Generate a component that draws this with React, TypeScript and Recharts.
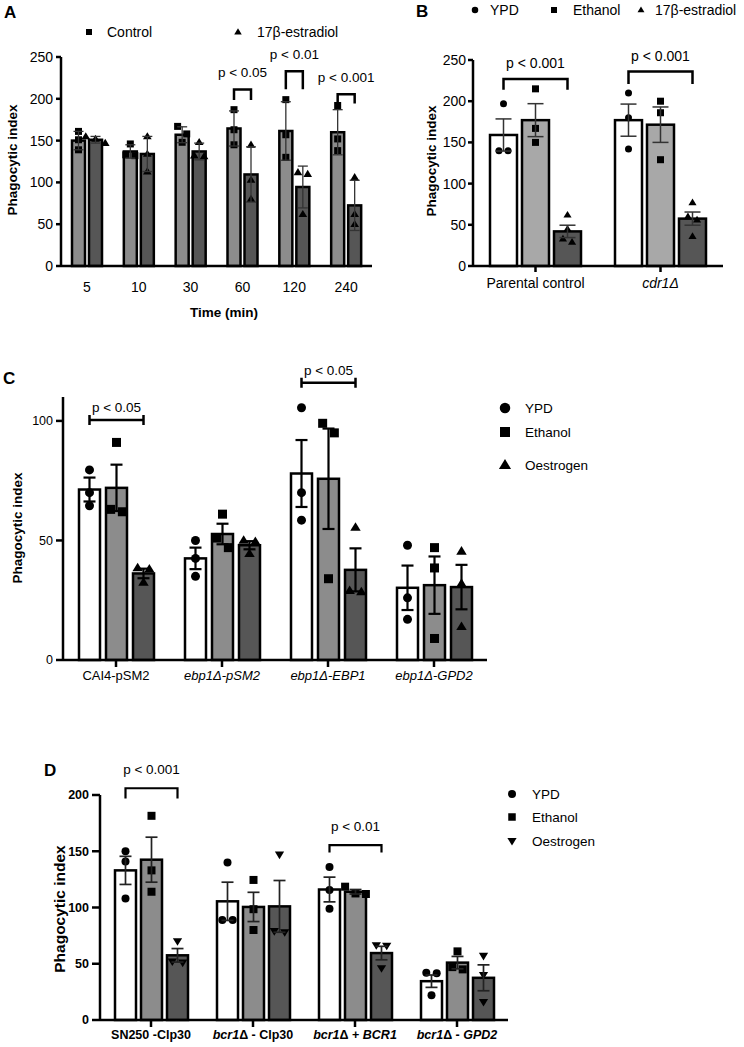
import React from 'react';
import { ComposedChart, Bar, XAxis, YAxis, ErrorBar } from 'recharts';

const FONT = '"Liberation Sans", Arial, Helvetica, sans-serif';

// ---------- Panel A ----------
const timeA = ['5', '10', '30', '60', '120', '240'];
const controlA = [150, 137, 157, 164.5, 161.5, 160];
const estradiolA = [151, 134, 137, 109.5, 94.5, 72.5];
const errControlA = [11, 8, 9.5, 21, 35, 27];
const errEstradiolA = [4, 21, 10, 33, 25, 30];
const ptsControlA = [[161, 151, 139], [146, 133, 132], [167, 158, 148], [187, 163, 145], [199, 157, 130], [192, 152, 138]];
const ptsEstradiolA = [[155, 152, 147], [155, 134, 113], [148, 132, 131], [145, 103, 80], [112, 110, 62], [106, 62, 50]];
const bracketTopA = [null, null, null, 211, 233, 205.5];
const bracketBottomA = [null, null, null, 198.5, 211.5, 194.5];
const pLabelA = ['', '', '', 'p < 0.05', 'p < 0.01', 'p < 0.001'];
const ticksA = [0, 50, 100, 150, 200, 250];

// ---------- Panel B ----------
const groupsB = ['Parental control', 'cdr1Δ'];
const tickPartsB: [string, boolean][][] = [[['Parental control', false]], [['cdr1Δ', true]]];
const ypdB = [159, 177];
const ethanolB = [177, 171.5];
const estradiolB = [42, 57.5];
const errYpdB = [19.5, 19.5];
const errEthanolB = [20, 21.5];
const errEstradiolB = [7.5, 8];
const ptsYpdB = [[197, 140, 140], [210, 180, 142]];
const ptsEthanolB = [[215, 167, 150], [200, 186, 129]];
const ptsEstradiolB = [[62, 45, 33, 29], [77, 60, 56, 36]];
const bracketTopB = [227, 236];
const bracketBottomB = [214, 221];
const pLabelB = ['p < 0.001', 'p < 0.001'];
const ticksB = [0, 50, 100, 150, 200, 250];

// ---------- Panel C ----------
const groupsC = ['CAI4-pSM2', 'ebp1Δ-pSM2', 'ebp1Δ-EBP1', 'ebp1Δ-GPD2'];
const tickPartsC: [string, boolean][][] = [
  [['CAI4-pSM2', false]],
  [['ebp1Δ-pSM2', true]],
  [['ebp1Δ-EBP1', true]],
  [['ebp1Δ-GPD2', true]],
];
const ypdC = [71.3, 42.5, 78, 30.2];
const ethanolC = [72, 52.7, 75.8, 31.3];
const oestrogenC = [36.2, 48, 37.7, 30.5];
const errYpdC = [5, 4.5, 14, 9.3];
const errEthanolC = [9.7, 4.3, 21, 12];
const errOestrogenC = [2, 1.7, 9, 9.3];
const ptsYpdC = [[79.5, 70, 64.5], [50, 42.5, 35], [105.5, 70, 58.5], [48, 26, 17]];
const ptsEthanolC = [[91, 63, 62], [61, 51, 47], [99, 95, 34], [47, 38.5, 9]];
const ptsOestrogenC = [[38.5, 38, 32.5], [50, 49.5, 44.5], [55.5, 29, 28.5], [45.5, 32, 14]];
const bracketC = [100.4, null, 116, null];
const pLabelC = ['p < 0.05', '', 'p < 0.05', ''];
const ticksC = [0, 50, 100];

// ---------- Panel D ----------
const groupsD = ['SN250 -Clp30', 'bcr1Δ - Clp30', 'bcr1Δ + BCR1', 'bcr1Δ - GPD2'];
const tickPartsD: [string, boolean][][] = [
  [['SN250 -Clp30', false]],
  [['bcr1', true], ['Δ - Clp30', false]],
  [['bcr1', true], ['Δ + ', false], ['BCR1', true]],
  [['bcr1', true], ['Δ - ', false], ['GPD2', true]],
];
const ypdD = [133, 105.5, 116, 34.5];
const ethanolD = [142.5, 100.5, 114, 51];
const oestrogenD = [57.5, 101, 59.5, 37.5];
const errYpdD = [12.5, 17, 11, 5.5];
const errEthanolD = [20, 13, 2, 5.5];
const errOestrogenD = [6, 23, 6, 11.5];
const ptsYpdD = [[150, 141, 108], [140, 89, 89], [136, 115.5, 99], [42, 41.5, 22]];
const ptsEthanolD = [[181.5, 133, 114], [124.5, 98.5, 80], [118.5, 112.5, 112], [61, 47, 45]];
const ptsOestrogenD = [[70, 52, 51], [147, 79, 78], [66.5, 66, 46], [57, 40, 16]];
const bracketTopD = [206, null, 155.5, null];
const bracketBottomD = [197, null, 149, null];
const pLabelD = ['p < 0.001', '', 'p < 0.01', ''];
const ticksD = [0, 50, 100, 150, 200];

// ---------- data tables ----------
const dataA = timeA.map((c, i) => ({ cat: c, i, control: controlA[i], estradiol: estradiolA[i], eC: errControlA[i], eE: errEstradiolA[i] }));
const dataB = groupsB.map((c, i) => ({ cat: c, i, ypd: ypdB[i], eth: ethanolB[i], est: estradiolB[i], eY: errYpdB[i], eEt: errEthanolB[i], eEs: errEstradiolB[i] }));
const dataC = groupsC.map((c, i) => ({ cat: c, i, ypd: ypdC[i], eth: ethanolC[i], oes: oestrogenC[i], eY: errYpdC[i], eEt: errEthanolC[i], eO: errOestrogenC[i] }));
const dataD = groupsD.map((c, i) => ({ cat: c, i, ypd: ypdD[i], eth: ethanolD[i], oes: oestrogenD[i], eY: errYpdD[i], eEt: errEthanolD[i], eO: errOestrogenD[i] }));

type Marker = 'circle' | 'square' | 'triUp' | 'triDown';

function swarm(vals: number[], cx: number, base: number, ppu: number, s: number) {
  const sorted = vals.map((v) => base - v * ppu).sort((a, b) => a - b);
  const clusters: number[][] = [];
  for (const y of sorted) {
    const last = clusters[clusters.length - 1];
    if (last && y - last[last.length - 1] < s * 1.1) last.push(y);
    else clusters.push([y]);
  }
  const out: { x: number; y: number }[] = [];
  for (const c of clusters) {
    const k = c.length;
    c.forEach((y, j) => out.push({ x: cx + (j - (k - 1) / 2) * s * 1.3, y }));
  }
  return out;
}

function drawMarker(m: Marker, x: number, y: number, s: number, key?: any) {
  if (m === 'circle') return <circle key={key} cx={x} cy={y} r={s / 2} fill="#000" />;
  if (m === 'square') return <rect key={key} x={x - s / 2} y={y - s / 2} width={s} height={s} fill="#000" />;
  const h = s * 0.95;
  const w = s * 0.58;
  if (m === 'triUp') return <path key={key} d={`M${x},${y - h * 0.6}L${x + w},${y + h * 0.4}L${x - w},${y + h * 0.4}Z`} fill="#000" />;
  return <path key={key} d={`M${x},${y + h * 0.6}L${x + w},${y - h * 0.4}L${x - w},${y - h * 0.4}Z`} fill="#000" />;
}

interface SeriesCfg { valueKey: string; pts: number[][]; marker: Marker; size: number; fill: string; stroke: number; }
interface BracketCfg {
  tops: (number | null)[]; bottoms: (number | null)[] | null; labels: string[];
  span: number; gap: number; kind: 'down' | 'I'; textGap: number; fontSize: number; lineWidth: number; capHalf: number;
}

function makeShape(cfg: SeriesCfg, br?: BracketCfg) {
  return (props: any) => {
    const { x, y, width, height, payload } = props;
    const i = payload.i;
    const v = payload[cfg.valueKey];
    const ppu = v ? height / v : 0;
    const base = y + height;
    const cx = x + width / 2;
    const pts = swarm(cfg.pts[i], cx, base, ppu, cfg.size);
    let bracket: any = null;
    const top = br ? br.tops[i] : null;
    if (br && top != null) {
      const x1 = cx;
      const x2 = cx + br.span * (width + br.gap);
      const yt = base - top * ppu;
      let d = '';
      if (br.kind === 'down') {
        const yb = base - (br.bottoms as number[])[i] * ppu;
        d = `M${x1},${yb}L${x1},${yt}L${x2},${yt}L${x2},${yb}`;
      } else {
        d = `M${x1},${yt - br.capHalf}L${x1},${yt + br.capHalf}M${x1},${yt}L${x2},${yt}M${x2},${yt - br.capHalf}L${x2},${yt + br.capHalf}`;
      }
      bracket = (
        <g>
          <path d={d} fill="none" stroke="#000" strokeWidth={br.lineWidth} />
          <text x={(x1 + x2) / 2} y={yt - br.textGap} textAnchor="middle" fontSize={br.fontSize} fontFamily={FONT} fill="#000">{br.labels[i]}</text>
        </g>
      );
    }
    return (
      <g>
        <rect x={x} y={y} width={width} height={height} fill={cfg.fill} stroke="#000" strokeWidth={cfg.stroke} />
        {pts.map((p, k) => drawMarker(cfg.marker, p.x, p.y, cfg.size, k))}
        {bracket}
      </g>
    );
  };
}

function makeCatTick(cats: string[], parts: [string, boolean][][] | null, d: number, fontSize: number, bold: boolean) {
  return (props: any) => {
    const { x, y, payload } = props;
    const idx = cats.indexOf(payload.value);
    const segs = parts && idx >= 0 ? parts[idx] : [[String(payload.value), false] as [string, boolean]];
    return (
      <text x={x} y={y + d} textAnchor="middle" fontSize={fontSize} fontFamily={FONT} fontWeight={bold ? 'bold' : 'normal'} fill="#000" style={{ whiteSpace: 'pre' }}>
        {segs.map((s, k) => (
          <tspan key={k} fontStyle={s[1] ? 'italic' : 'normal'}>{s[0]}</tspan>
        ))}
      </text>
    );
  };
}

const AXIS = { stroke: '#000', strokeWidth: 2.5 };

function ChartA() {
  const br: BracketCfg = { tops: bracketTopA, bottoms: bracketBottomA, labels: pLabelA, span: 1, gap: 4, kind: 'down', textGap: 12.5, fontSize: 13.5, lineWidth: 2.5, capHalf: 0 };
  return (
    <ComposedChart width={385} height={330} data={dataA} margin={{ top: 57, right: 13, bottom: 34, left: 16 }} barGap={4} barSize={13}>
      <XAxis dataKey="cat" height={30} interval={0} tickLine={false} axisLine={AXIS} tickSize={6} tickMargin={0}
        tick={makeCatTick(timeA, null, 20, 14, false)} />
      <YAxis width={45} domain={[0, 250]} ticks={ticksA} interval={0} axisLine={AXIS} tickLine={AXIS} tickSize={5} tickMargin={3}
        tick={{ fill: '#000', fontSize: 14, fontFamily: FONT }} />
      <Bar dataKey="control" isAnimationActive={false} shape={makeShape({ valueKey: 'control', pts: ptsControlA, marker: 'square', size: 7, fill: '#8c8c8c', stroke: 2.5 }, br)}>
        <ErrorBar dataKey="eC" direction="y" width={5} stroke="#333" strokeWidth={1.3} />
      </Bar>
      <Bar dataKey="estradiol" isAnimationActive={false} shape={makeShape({ valueKey: 'estradiol', pts: ptsEstradiolA, marker: 'triUp', size: 7.5, fill: '#565656', stroke: 2.5 })}>
        <ErrorBar dataKey="eE" direction="y" width={5} stroke="#333" strokeWidth={1.3} />
      </Bar>
    </ComposedChart>
  );
}

function ChartB() {
  const br: BracketCfg = { tops: bracketTopB, bottoms: bracketBottomB, labels: pLabelB, span: 2, gap: 5, kind: 'down', textGap: 11, fontSize: 14, lineWidth: 2.5, capHalf: 0 };
  return (
    <ComposedChart width={364} height={320} data={dataB} margin={{ top: 60, right: 21, bottom: 24, left: 53 }} barGap={5} barSize={27}>
      <XAxis dataKey="cat" height={30} interval={0} tickLine={AXIS} axisLine={AXIS} tickSize={6} tickMargin={0}
        tick={makeCatTick(groupsB, tickPartsB, 16, 14, false)} />
      <YAxis width={40} domain={[0, 250]} ticks={ticksB} interval={0} axisLine={AXIS} tickLine={AXIS} tickSize={5} tickMargin={2}
        tick={{ fill: '#000', fontSize: 14, fontFamily: FONT }} />
      <Bar dataKey="ypd" isAnimationActive={false} shape={makeShape({ valueKey: 'ypd', pts: ptsYpdB, marker: 'circle', size: 7, fill: '#ffffff', stroke: 2.5 }, br)}>
        <ErrorBar dataKey="eY" direction="y" width={8} stroke="#333" strokeWidth={1.5} />
      </Bar>
      <Bar dataKey="eth" isAnimationActive={false} shape={makeShape({ valueKey: 'eth', pts: ptsEthanolB, marker: 'square', size: 7, fill: '#a8a8a8', stroke: 2.5 })}>
        <ErrorBar dataKey="eEt" direction="y" width={8} stroke="#333" strokeWidth={1.5} />
      </Bar>
      <Bar dataKey="est" isAnimationActive={false} shape={makeShape({ valueKey: 'est', pts: ptsEstradiolB, marker: 'triUp', size: 7, fill: '#565656', stroke: 2.5 })}>
        <ErrorBar dataKey="eEs" direction="y" width={8} stroke="#333" strokeWidth={1.5} />
      </Bar>
    </ComposedChart>
  );
}

function ChartC() {
  const br: BracketCfg = { tops: bracketC, bottoms: null, labels: pLabelC, span: 2, gap: 6, kind: 'I', textGap: 8, fontSize: 13.5, lineWidth: 2.5, capHalf: 5 };
  return (
    <ComposedChart width={500} height={360} data={dataC} margin={{ top: 57, right: 13, bottom: 10, left: 18 }} barGap={6} barSize={21}>
      <XAxis dataKey="cat" height={30} interval={0} tickLine={AXIS} axisLine={AXIS} tickSize={7} tickMargin={0}
        tick={makeCatTick(groupsC, tickPartsC, 13, 13, false)} />
      <YAxis width={45} domain={[0, 110]} ticks={ticksC} interval={0} axisLine={AXIS} tickLine={AXIS} tickSize={7} tickMargin={3}
        tick={{ fill: '#000', fontSize: 12.5, fontFamily: FONT }} />
      <Bar dataKey="ypd" isAnimationActive={false} shape={makeShape({ valueKey: 'ypd', pts: ptsYpdC, marker: 'circle', size: 9, fill: '#ffffff', stroke: 2.5 }, br)}>
        <ErrorBar dataKey="eY" direction="y" width={6} stroke="#000" strokeWidth={2.2} />
      </Bar>
      <Bar dataKey="eth" isAnimationActive={false} shape={makeShape({ valueKey: 'eth', pts: ptsEthanolC, marker: 'square', size: 9, fill: '#8c8c8c', stroke: 2.5 })}>
        <ErrorBar dataKey="eEt" direction="y" width={6} stroke="#000" strokeWidth={2.2} />
      </Bar>
      <Bar dataKey="oes" isAnimationActive={false} shape={makeShape({ valueKey: 'oes', pts: ptsOestrogenC, marker: 'triUp', size: 9, fill: '#565656', stroke: 2.5 })}>
        <ErrorBar dataKey="eO" direction="y" width={6} stroke="#000" strokeWidth={2.2} />
      </Bar>
    </ComposedChart>
  );
}

function ChartD() {
  const br: BracketCfg = { tops: bracketTopD, bottoms: bracketBottomD, labels: pLabelD, span: 2, gap: 5, kind: 'down', textGap: 14.5, fontSize: 13.5, lineWidth: 2.2, capHalf: 0 };
  return (
    <ComposedChart width={520} height={297} data={dataD} margin={{ top: 45, right: 12, bottom: 2, left: 55 }} barGap={5} barSize={21}>
      <XAxis dataKey="cat" height={25} interval={0} tickLine={AXIS} axisLine={AXIS} tickSize={7} tickMargin={0}
        tick={makeCatTick(groupsD, tickPartsD, 12, 12.5, true)} />
      <YAxis width={45} domain={[0, 200]} ticks={ticksD} interval={0} axisLine={AXIS} tickLine={AXIS} tickSize={8} tickMargin={3}
        tick={{ fill: '#000', fontSize: 12.5, fontFamily: FONT, fontWeight: 'bold' }} />
      <Bar dataKey="ypd" isAnimationActive={false} shape={makeShape({ valueKey: 'ypd', pts: ptsYpdD, marker: 'circle', size: 8, fill: '#ffffff', stroke: 2.5 }, br)}>
        <ErrorBar dataKey="eY" direction="y" width={6} stroke="#222" strokeWidth={1.7} />
      </Bar>
      <Bar dataKey="eth" isAnimationActive={false} shape={makeShape({ valueKey: 'eth', pts: ptsEthanolD, marker: 'square', size: 8, fill: '#8c8c8c', stroke: 2.5 })}>
        <ErrorBar dataKey="eEt" direction="y" width={6} stroke="#222" strokeWidth={1.7} />
      </Bar>
      <Bar dataKey="oes" isAnimationActive={false} shape={makeShape({ valueKey: 'oes', pts: ptsOestrogenD, marker: 'triDown', size: 8, fill: '#565656', stroke: 2.5 })}>
        <ErrorBar dataKey="eO" direction="y" width={6} stroke="#222" strokeWidth={1.7} />
      </Bar>
    </ComposedChart>
  );
}

function T(props: any) {
  const { x, y, children, size = 14, bold = false, anchor = 'start', rotate = false } = props;
  return (
    <text x={x} y={y} fontSize={size} fontFamily={FONT} fontWeight={bold ? 'bold' : 'normal'} fill="#000" textAnchor={anchor}
      transform={rotate ? `rotate(-90 ${x} ${y})` : undefined}>{children}</text>
  );
}

export default function App() {
  return (
    <div style={{ position: 'absolute', left: 0, top: 0, width: 744, height: 1047, background: '#fff', fontFamily: FONT }}>
      <div style={{ position: 'absolute', left: 0, top: 0 }}><ChartA /></div>
      <div style={{ position: 'absolute', left: 380, top: 0 }}><ChartB /></div>
      <div style={{ position: 'absolute', left: 0, top: 340 }}><ChartC /></div>
      <div style={{ position: 'absolute', left: 0, top: 750 }}><ChartD /></div>
      <svg width={744} height={1047} style={{ position: 'absolute', left: 0, top: 0, pointerEvents: 'none' }}>
        {/* panel letters */}
        <T x={4} y={18} size={17} bold>A</T>
        <T x={416} y={17} size={17} bold>B</T>
        <T x={3} y={384} size={17} bold>C</T>
        <T x={44} y={776} size={17} bold>D</T>

        {/* legend A */}
        {drawMarker('square', 89, 32, 6)}
        <T x={107} y={37} size={14}>Control</T>
        {drawMarker('triUp', 238, 32, 6.5)}
        <T x={257} y={37} size={14}>17β-estradiol</T>

        {/* legend B */}
        {drawMarker('circle', 475, 10, 6.5)}
        <T x={490} y={15} size={14}>YPD</T>
        {drawMarker('square', 554, 10, 6)}
        <T x={573} y={15} size={14}>Ethanol</T>
        {drawMarker('triUp', 641, 10, 6)}
        <T x={655} y={15} size={14}>17β-estradiol</T>

        {/* legend C */}
        {drawMarker('circle', 505, 408, 10.5)}
        <T x={525} y={413} size={13.5}>YPD</T>
        {drawMarker('square', 505, 432, 10)}
        <T x={525} y={437} size={13.5}>Ethanol</T>
        {drawMarker('triUp', 505, 465, 10.5)}
        <T x={525} y={470} size={13.5}>Oestrogen</T>

        {/* legend D */}
        {drawMarker('circle', 512, 794, 8)}
        <T x={532} y={799} size={13.5}>YPD</T>
        {drawMarker('square', 512, 817, 7.5)}
        <T x={532} y={822} size={13.5}>Ethanol</T>
        {drawMarker('triDown', 512, 841, 8)}
        <T x={532} y={846} size={13.5}>Oestrogen</T>

        {/* axis titles */}
        <T x={17} y={160} size={13.5} bold anchor="middle" rotate>Phagocytic index</T>
        <T x={436} y={161} size={13.5} bold anchor="middle" rotate>Phagocytic index</T>
        <T x={22} y={528} size={13.5} bold anchor="middle" rotate>Phagocytic index</T>
        <T x={64.5} y={909} size={15.5} bold anchor="middle" rotate>Phagocytic index</T>
        <T x={224} y={317} size={13.5} bold anchor="middle">Time (min)</T>
      </svg>
    </div>
  );
}
